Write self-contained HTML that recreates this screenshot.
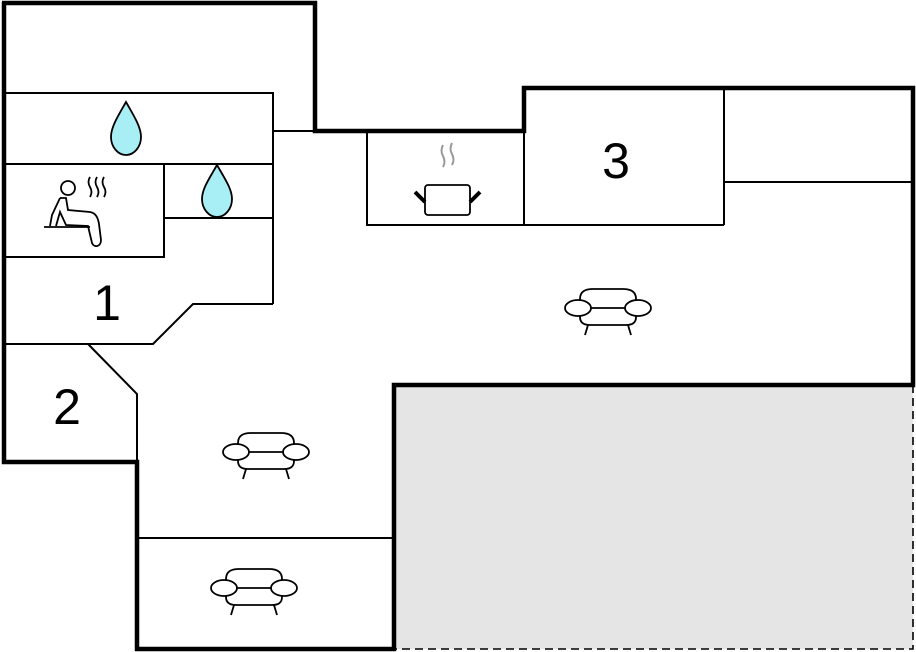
<!DOCTYPE html>
<html><head><meta charset="utf-8"><style>html,body{margin:0;padding:0;background:#fff}svg{display:block}</style></head>
<body>
<svg width="916" height="652" viewBox="0 0 916 652" xmlns="http://www.w3.org/2000/svg">
<rect x="396" y="387" width="517" height="262" fill="#e5e5e5"/>
<g fill="none" stroke="#000" stroke-width="2">
<polyline points="6,93 273,93 273,304"/>
<line x1="273" y1="131" x2="315" y2="131"/>
<line x1="6" y1="164" x2="273" y2="164"/>
<polyline points="164,164 164,257 6,257"/>
<line x1="164" y1="218" x2="273" y2="218"/>
<polyline points="273,304 193,304 153,344 6,344"/>
<polyline points="88,344 137,394 137,462"/>
<polyline points="367,131 367,225 724,225"/>
<line x1="524" y1="225" x2="524" y2="131"/>
<line x1="724" y1="88" x2="724" y2="225"/>
<line x1="724" y1="182" x2="913" y2="182"/>
<line x1="137" y1="538" x2="394" y2="538"/>
<polyline points="913,385 913,649 394,649" stroke-dasharray="8,5" stroke-width="1.6"/>
</g>
<polyline fill="none" stroke="#000" stroke-width="4.5" points="4,2 4,462 137,462 137,649 394,649 394,385 913,385 913,88 524,88 524,131 315,131 315,3 2,3"/>
<g font-family="Liberation Sans, sans-serif" font-size="50" text-anchor="middle" fill="#000">
<text x="107" y="320">1</text>
<text x="67" y="424">2</text>
<text x="616" y="178">3</text>
</g>
<!-- drops -->
<g fill="#a8eef5" stroke="#000" stroke-width="1.8">
<path d="M126,102 C118,116 111,127 111,137 C111,147 118,155 126,155 C134,155 141,147 141,137 C141,127 134,116 126,102 Z"/>
<path d="M217,165 C209,179 202,189 202,199 C202,209 209,217 217,217 C225,217 232,209 232,199 C232,189 225,179 217,165 Z"/>
</g>
<!-- sauna -->
<g fill="none" stroke="#000" stroke-width="1.8">
<circle cx="68" cy="188" r="7"/>
<path d="M60,198 L52,215 L50,226 M60,198 L66,198 L68,210 L90,212 C96,213 98,218 99,224 L101,240 C101,247 94,248 92,243 L88,226 L66,225 L60,212 L56,226"/>
<line x1="44" y1="227" x2="90" y2="227"/>
<path d="M90,177 q-3,5 0,10 q3,5 0,10 M97,177 q-3,5 0,10 q3,5 0,10 M104,177 q-3,5 0,10 q3,5 0,10"/>
</g>
<!-- pot -->
<path d="M443,145 q-3,6 0,11 q3,6 0,11 M452,143 q-3,6 0,11 q3,6 0,11" fill="none" stroke="#999" stroke-width="2"/>
<rect x="425" y="185" width="45" height="30" rx="3" fill="#fff" stroke="#000" stroke-width="1.8"/>
<line x1="415" y1="192" x2="425" y2="202" stroke="#000" stroke-width="4"/>
<line x1="480" y1="192" x2="470" y2="202" stroke="#000" stroke-width="4"/>
<!-- sofas -->
<defs>
<g id="sofa" fill="#fff" stroke="#000" stroke-width="1.8">
<path d="M-28,5 L-28,-8 C-28,-16 -22,-18 -15,-18 L15,-18 C22,-18 28,-16 28,-8 L28,5"/>
<path d="M-28,0 L-28,10 C-28,16 -24,18 -18,18 L18,18 C24,18 28,16 28,10 L28,0"/>
<line x1="-20" y1="1" x2="20" y2="1"/>
<ellipse cx="-30" cy="1" rx="13" ry="8"/>
<ellipse cx="30" cy="1" rx="13" ry="8"/>
<line x1="-20" y1="18" x2="-23" y2="28"/>
<line x1="20" y1="18" x2="23" y2="28"/>
</g>
</defs>
<use href="#sofa" x="608" y="307"/>
<use href="#sofa" x="266" y="451"/>
<use href="#sofa" x="254" y="587"/>
</svg>
</body></html>
